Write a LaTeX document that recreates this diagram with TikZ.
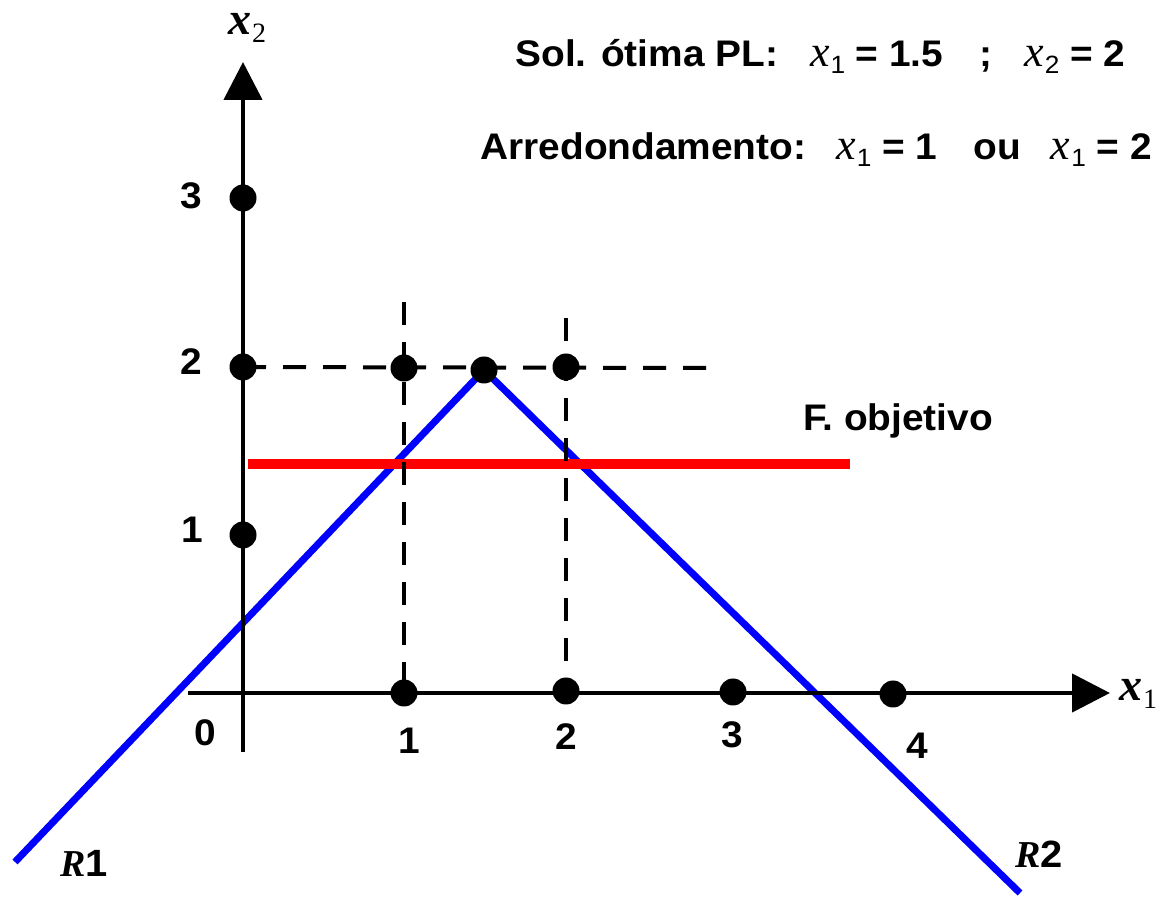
\documentclass[tikz,border=0pt]{standalone}
\usepackage{fontspec}
\setmainfont[FakeStretch=1.05]{Liberation Sans}
\newfontfamily\serifface{Liberation Serif}
\usetikzlibrary{arrows.meta}
\newcommand\axv[1]{{\serifface\bfseries\itshape x}\kern0.5pt\raisebox{-0.3ex}{\serifface\fontsize{14}{16}\selectfont #1}}
\newcommand\hv[1]{{\serifface\mdseries\fontsize{22}{24}\selectfont\itshape x}\kern0.5pt\raisebox{-3.5pt}{\mdseries\fontsize{12.5}{14}\selectfont #1}}
\newcommand\rv[1]{{\serifface\bfseries\itshape R}#1}
\begin{document}
\begin{tikzpicture}[x=0.5pt,y=-0.5pt,
 lbl/.style={font=\fontsize{18.5}{20}\selectfont\bfseries, inner sep=0},
 hdr/.style={font=\fontsize{18.5}{20}\selectfont\bfseries, inner sep=0, anchor=base west},
 axlab/.style={font=\fontsize{23}{26}\selectfont, inner sep=0},
 rlab/.style={font=\fontsize{19}{22}\selectfont\bfseries, inner sep=0},
 dot/.style={circle, fill=black, minimum size=13.5pt, inner sep=0},
 axis/.style={line width=2.3pt, -{Triangle[length=19pt,width=19pt]}},
 gridline/.style={line width=2pt, dash pattern=on 11.5pt off 8.5pt},
 con/.style={blue, line width=3.5pt},
 obj/.style={red, line width=5pt}]
\useasboundingbox (0,0) rectangle (1174,898);
% positions
\coordinate (xs) at (188,693);
\coordinate (xe) at (1110,693);
\coordinate (ys) at (243,752);
\coordinate (ye) at (243,62);
\coordinate (c01) at (243,535);
\coordinate (c02) at (243,367);
\coordinate (c03) at (243,198);
\coordinate (c12) at (404,368);
\coordinate (cpk) at (484,370);
\coordinate (c22) at (566,367);
\coordinate (c10) at (404,693);
\coordinate (c20) at (566,691);
\coordinate (c30) at (733,692);
\coordinate (c40) at (893,694);
\coordinate (hend) at (710,368);
\coordinate (v1top) at (404,302);
\coordinate (v2top) at (566,318);
\coordinate (r1s) at (15,862);
\coordinate (r2e) at (1020,893);
\coordinate (objs) at (248,464);
\coordinate (obje) at (850,464);
% constraints and objective
\draw[con] (r1s) -- (cpk) -- (r2e);
\draw[obj] (objs) -- (obje);
% dashed guides
\draw[gridline] (c02) -- (hend);
\draw[gridline] (v1top) -- (c10);
\draw[gridline] (v2top) -- (c20);
% axes
\draw[axis] (xs) -- (xe);
\draw[axis] (ys) -- (ye);
% dots
\foreach \p in {c01,c02,c03,c12,cpk,c22,c10,c20,c30,c40}
  \node[dot] (d\p) at (\p) {};
% axis labels
\node[axlab] (x1lab) at (1138,694) {\axv{1}};
\node[axlab] (x2lab) at (247,28) {\axv{2}};
\node[lbl] (ly3) at (191,196) {3};
\node[lbl] (ly2) at (191,362) {2};
\node[lbl] (ly1) at (192,530) {1};
\node[lbl] (l0) at (205,733) {0};
\node[lbl] (lx1) at (409,741) {1};
\node[lbl] (lx2) at (566,737) {2};
\node[lbl] (lx3) at (732,735) {3};
\node[lbl] (lx4) at (917,746) {4};
\node[lbl] (fobj) at (898,421) {F. objetivo};
\node[rlab] (r1lab) at (84,863) {\rv{1}};
\node[rlab] (r2lab) at (1039,854) {\rv{2}};
% header
\node[hdr] (sol) at (515,67) {Sol. ótima PL:\hspace{16pt}\hv{1} = 1.5\hspace{18pt};\hspace{16pt}\hv{2} = 2};
\node[hdr] (arr) at (480,160) {Arredondamento:\hspace{15pt}\hv{1} = 1\hspace{18pt}ou\hspace{15pt}\hv{1} = 2};
\end{tikzpicture}
\end{document}
